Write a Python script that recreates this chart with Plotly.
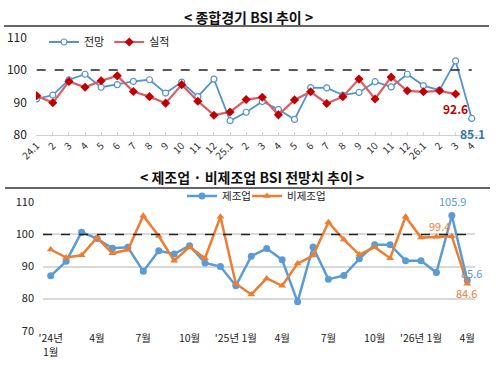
import plotly.graph_objects as go

# ---- data ----
top_labels = ["24.1", "2", "3", "4", "5", "6", "7", "8", "9", "10", "11", "12",
              "25.1", "2", "3", "4", "5", "6", "7", "8", "9", "10", "11", "12",
              "26.1", "2", "3", "4"]
outlook = [91.1, 92.3, 97.0, 98.7, 94.7, 95.5, 96.5, 97.0, 92.9, 96.3, 91.8, 97.2,
           84.4, 87.0, 90.3, 87.9, 84.8, 94.6, 94.5, 92.3, 93.1, 96.4, 94.8, 98.7,
           95.2, 93.8, 102.8, 85.1]
actual = [92.1, 89.9, 96.5, 94.7, 96.7, 98.2, 93.4, 91.8, 89.8, 95.5, 90.4, 86.1,
          87.1, 90.9, 91.6, 86.2, 90.8, 93.3, 89.7, 91.8, 97.2, 91.1, 97.8, 93.6,
          93.3, 93.6, 92.6, None]

bottom_ticks = {0: "'24년<br>1월", 3: "4월", 6: "7월", 9: "10월", 12: "'25년 1월",
                15: "4월", 18: "7월", 21: "10월", 24: "'26년 1월", 27: "4월"}
manuf = [87.1, 91.6, 100.7, 98.7, 95.7, 96.0, 88.5, 94.9, 93.9, 96.5, 91.1, 90.0,
         84.0, 93.2, 95.6, 92.1, 79.0, 96.1, 86.0, 87.2, 92.4, 96.8, 96.8, 91.8,
         91.8, 88.1, 105.9, 85.6]
nonmanuf = [95.3, 92.8, 93.5, 99.0, 94.1, 95.2, 105.8, 99.5, 91.8, 96.1, 92.6, 105.5,
            84.6, 81.3, 86.3, 84.0, 90.9, 93.4, 103.8, 98.4, 93.7, 96.0, 92.6, 105.5,
            99.0, 99.3, 99.4, 84.6]

W, H = 500, 374
FONT = "Noto Sans CJK KR"
xs = list(range(len(top_labels)))

def px(x):
    return x / W

def py(y):
    return 1 - y / H

fig = go.Figure()

# top chart
fig.add_trace(go.Scatter(x=xs, y=outlook, name="전망", mode="lines+markers",
                         line=dict(color="#5393cf", width=1.8),
                         marker=dict(symbol="circle", size=6, color="white",
                                     line=dict(color="#5393cf", width=1.2)),
                         xaxis="x", yaxis="y", legend="legend"))
fig.add_trace(go.Scatter(x=xs, y=actual, name="실적", mode="lines+markers",
                         line=dict(color="#dc5e64", width=2.2),
                         marker=dict(symbol="diamond", size=7, color="#c00000"),
                         xaxis="x", yaxis="y", legend="legend"))

# bottom chart
fig.add_trace(go.Scatter(x=xs, y=manuf, name="제조업", mode="lines+markers",
                         line=dict(color="#5b9bd5", width=2.5),
                         marker=dict(symbol="circle", size=7, color="#5b9bd5"),
                         xaxis="x2", yaxis="y2", legend="legend2"))
fig.add_trace(go.Scatter(x=xs, y=nonmanuf, name="비제조업", mode="lines+markers",
                         line=dict(color="#ed7d31", width=2.5),
                         marker=dict(symbol="triangle-up", size=7, color="#ed7d31"),
                         xaxis="x2", yaxis="y2", legend="legend3"))

# reference dashed lines at 100
fig.add_shape(type="line", xref="x", yref="y", x0=0, x1=27, y0=100, y1=100,
              line=dict(color="#222", width=1.5, dash="dash"))
fig.add_shape(type="line", xref="x2", yref="y2", x0=-0.5, x1=27.6, y0=100, y1=100,
              line=dict(color="#222", width=1.5, dash="dash"))

# title underlines
fig.add_shape(type="line", xref="paper", yref="paper", x0=px(4), x1=px(489),
              y0=py(26), y1=py(26), line=dict(color="#333", width=1.5))
fig.add_shape(type="line", xref="paper", yref="paper", x0=px(5), x1=px(490),
              y0=py(188), y1=py(188), line=dict(color="#333", width=1.5))

ann = [
    dict(text="<b>&lt; 종합경기 BSI 추이 &gt;</b>", x=px(248), y=py(17), size=14, color="#111"),
    dict(text="<b>&lt; 제조업 · 비제조업 BSI 전망치 추이 &gt;</b>", x=px(252), y=py(177), size=14, color="#111"),
    dict(text="<b>92.6</b>", x=px(455), y=py(108), size=12, color="#c00000"),
    dict(text="<b>85.1</b>", x=px(472), y=py(133), size=12, color="#2e75b6"),
    dict(text="105.9", x=px(452), y=py(201), size=11, color="#5b9bd5"),
    dict(text="99.4", x=px(439), y=py(226), size=11, color="#ed7d31"),
    dict(text="85.6", x=px(471), y=py(273), size=11, color="#5b9bd5"),
    dict(text="84.6", x=px(466), y=py(293), size=11, color="#ed7d31"),
]
for a in ann:
    fig.add_annotation(text=a["text"], x=a["x"], y=a["y"], xref="paper", yref="paper",
                       showarrow=False, xanchor="center", yanchor="middle",
                       font=dict(family=FONT, size=a["size"], color=a["color"]))

fig.update_layout(
    width=W, height=H, margin=dict(l=0, r=0, t=0, b=0),
    paper_bgcolor="white", plot_bgcolor="white",
    font=dict(family=FONT, color="#222"),
    xaxis=dict(domain=[px(35.9), px(479.8)], range=[-0.05, 27.5], anchor="y",
               tickvals=xs, ticktext=top_labels, tickangle=-45,
               tickfont=dict(size=10, color="#333"), automargin=False,
               showgrid=False, zeroline=False, showline=True, linecolor="#d0d0d0",
               ticks="inside", ticklen=3, tickcolor="#d0d0d0"),
    yaxis=dict(domain=[py(135), py(37.5)], range=[80, 110], tickvals=[80, 90, 100, 110],
               anchor="x", automargin=False,
               tickfont=dict(size=12, color="#222"), showgrid=False, zeroline=False,
               ticklabelstandoff=8),
    xaxis2=dict(domain=[px(43), px(475)], range=[-0.5, 27.5], anchor="y2",
                tickvals=list(bottom_ticks.keys()), ticktext=list(bottom_ticks.values()),
                tickangle=0, tickfont=dict(size=10.5, color="#222"), automargin=False,
                showgrid=False, zeroline=False, showline=False, ticks=""),
    yaxis2=dict(domain=[py(330.7), py(202.3)], range=[70, 110], anchor="x2",
                tickvals=[70, 80, 90, 100, 110], automargin=False,
                tickfont=dict(size=11, color="#222"), showgrid=True,
                gridcolor="#d9d9d9", gridwidth=1.5, zeroline=False,
                ticklabelstandoff=8),
    legend=dict(orientation="h", x=px(44), y=py(42), xanchor="left", yanchor="middle",
                font=dict(size=11, color="#222"), bgcolor="rgba(0,0,0,0)",
                itemwidth=30, tracegroupgap=0),
    legend2=dict(orientation="h", x=px(182), y=py(196), xanchor="left", yanchor="middle",
                 font=dict(size=10.5, color="#222"), bgcolor="rgba(0,0,0,0)",
                 itemwidth=30),
    legend3=dict(orientation="h", x=px(247), y=py(196), xanchor="left", yanchor="middle",
                 font=dict(size=10.5, color="#222"), bgcolor="rgba(0,0,0,0)",
                 itemwidth=30),
)

fig.write_html("out.html", config={"displayModeBar": False},
               post_script="document.body.style.margin='0';document.body.style.overflow='hidden';")
